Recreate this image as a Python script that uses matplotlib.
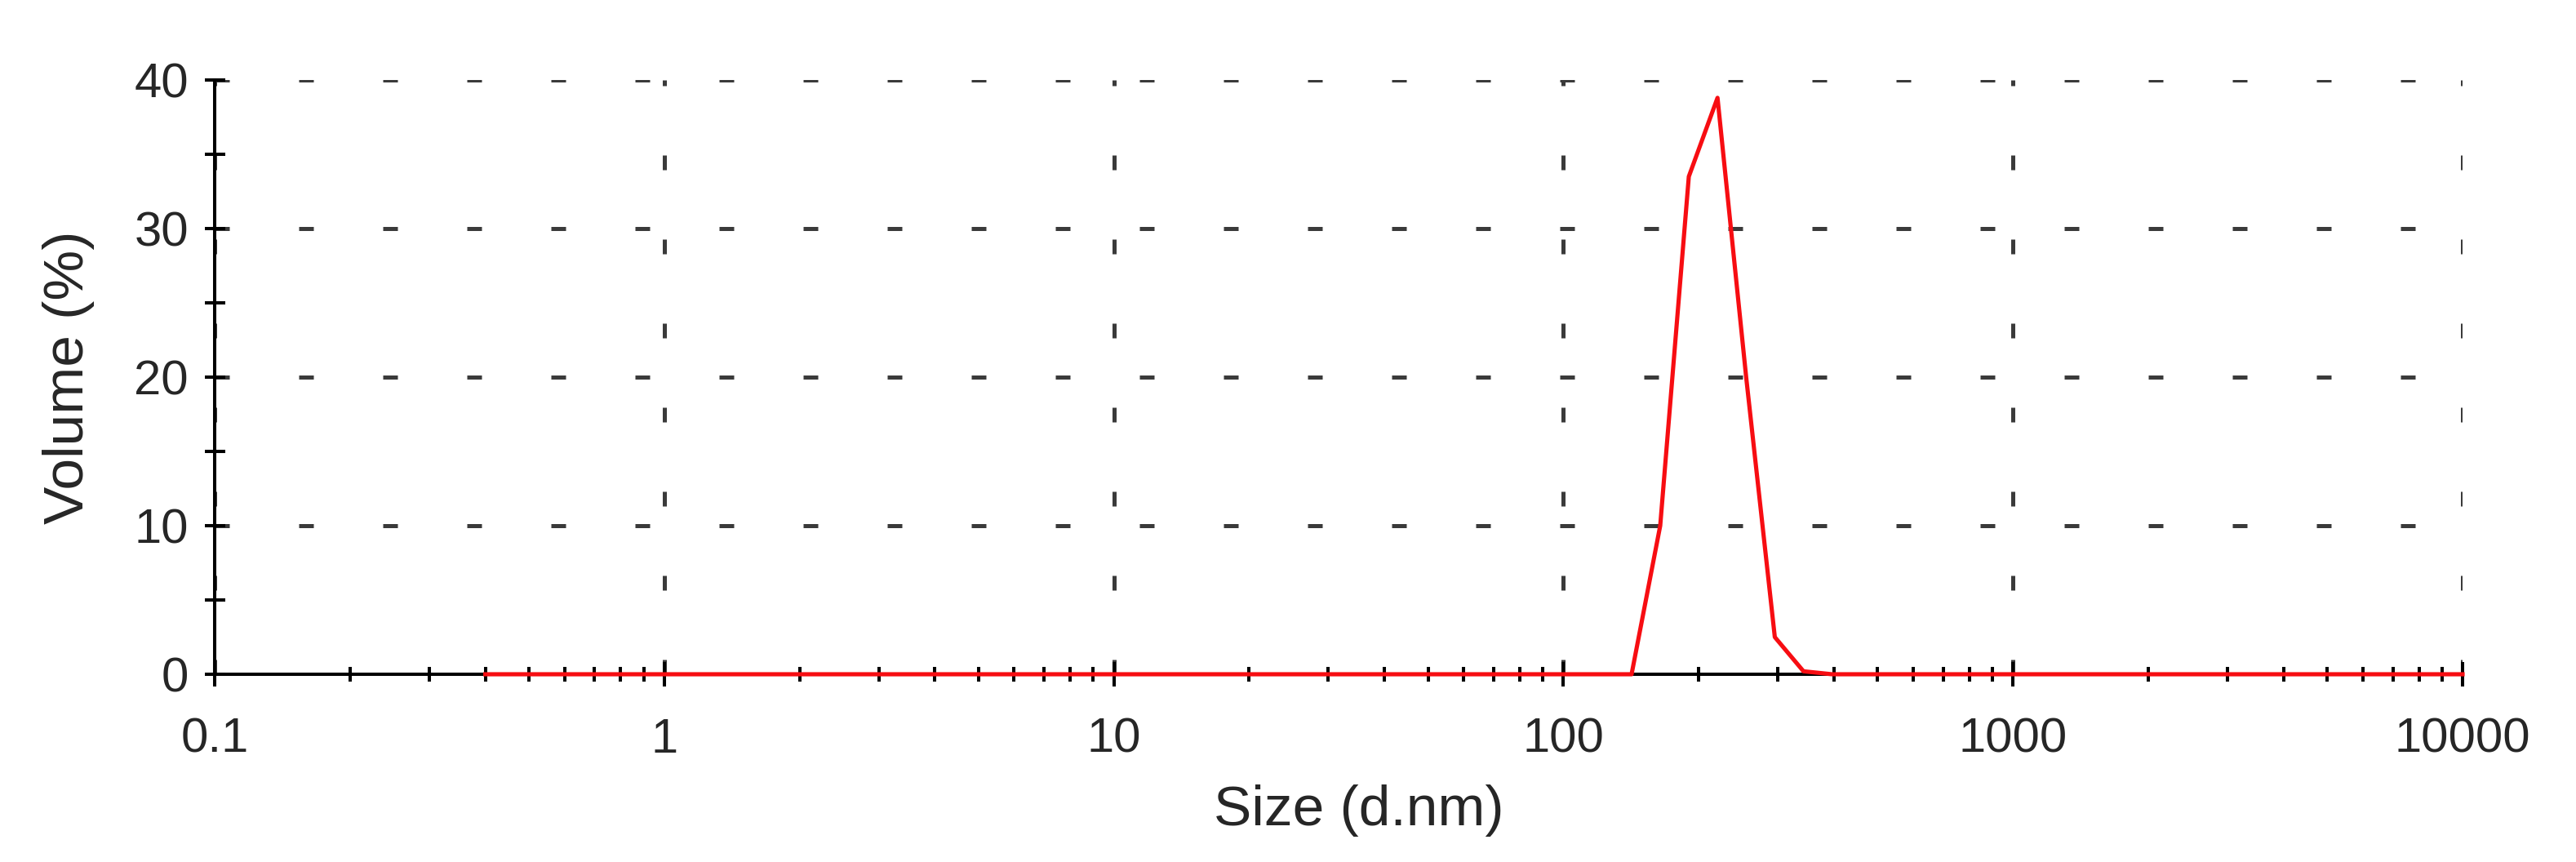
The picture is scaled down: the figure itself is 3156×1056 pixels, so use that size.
import matplotlib
matplotlib.use("Agg")
import matplotlib.pyplot as plt
from matplotlib.ticker import LogLocator, FixedLocator, NullFormatter

# Data
size_nm = [0.4, 141.8, 164.2, 190.1, 220.2, 255.0, 295.3, 342.0, 396.1, 10000.0]
volume_pct = [0.0, 0.0, 10.0, 33.5, 38.8, 20.0, 2.5, 0.2, 0.0, 0.0]

x_ticks = [0.1, 1, 10, 100, 1000, 10000]
x_tick_labels = ["0.1", "1", "10", "100", "1000", "10000"]
y_ticks = [0, 10, 20, 30, 40]
y_minor = [5, 15, 25, 35]

plt.rcParams['font.family'] = ['Liberation Sans', 'DejaVu Sans']

DPI = 100
fig = plt.figure(figsize=(31.56, 10.56), dpi=DPI)
ax = fig.add_axes([263 / 3156, 1 - 826 / 1056, (3017 - 263) / 3156, (826 - 98) / 1056])

ax.plot(size_nm, volume_pct, color='#f70d12', linewidth=3.7, zorder=4, clip_on=False)

ax.set_xscale('log')
ax.set_xlim(0.1, 10000)
ax.set_ylim(0, 40)

ax.set_xticks(x_ticks)
ax.set_xticklabels(x_tick_labels)
ax.xaxis.set_minor_locator(LogLocator(base=10, subs=range(2, 10), numticks=50))
ax.xaxis.set_minor_formatter(NullFormatter())
ax.set_yticks(y_ticks)
ax.yaxis.set_minor_locator(FixedLocator(y_minor))

for s in ['top', 'right']:
    ax.spines[s].set_visible(False)
for s in ['left', 'bottom']:
    ax.spines[s].set_linewidth(2.9)
    ax.spines[s].set_color('black')

ax.tick_params(axis='x', which='major', direction='inout', length=21.6, width=2.9,
               labelsize=43, pad=27, colors='black')
ax.tick_params(axis='x', which='minor', direction='inout', length=13, width=2.9)
ax.tick_params(axis='y', which='both', direction='inout', length=18, width=2.9,
               labelsize=43, pad=14)
for lbl in ax.get_xticklabels() + ax.get_yticklabels():
    lbl.set_color('#262626')

ax.grid(True, which='major', axis='both', color='#3a3a3a', linewidth=3.6,
        linestyle=(0, (3.6, 17.0)))
ax.set_axisbelow(True)

ax.set_xlabel("Size (d.nm)", fontsize=50, labelpad=18, color='#262626')
ax.xaxis.set_label_coords(0.509, -0.185)
ax.set_ylabel("Volume (%)", fontsize=50, labelpad=35, color='#262626')

fig.savefig("out.png", dpi=DPI, facecolor='white')
